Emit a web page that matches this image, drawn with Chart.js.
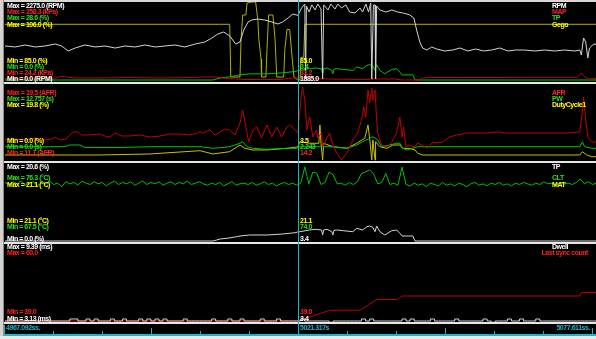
<!DOCTYPE html>
<html>
<head>
<meta charset="utf-8">
<title>Log viewer</title>
<script src="https://cdn.jsdelivr.net/npm/chart.js"></script>
<style>
  html, body { margin: 0; padding: 0; background: #000; overflow: hidden; }
  #view { position: relative; width: 596px; height: 339px; background: #000; overflow: hidden; }
  #view canvas { position: absolute; left: 0; }
  .rule { position: absolute; z-index: 3; }
  .txt { position: absolute; z-index: 4; font: bold 7px "Liberation Sans", Arial, sans-serif; line-height: 8px; white-space: nowrap; letter-spacing: -0.45px; }
</style>
</head>
<body>
<div id="view">
  <canvas id="p1" width="602" height="82" style="top:0"></canvas>
  <canvas id="p2" width="602" height="78" style="top:84px"></canvas>
  <canvas id="p3" width="602" height="80" style="top:163px"></canvas>
  <canvas id="p4" width="602" height="79" style="top:244px"></canvas>
  <canvas id="strip" width="602" height="12" style="top:323px"></canvas>
</div>
<script>
// log window
const logStart = 4967.092;
const logEnd = 5077.611;
const cursorTime = 5021.317;

// all times below are seconds after logStart

// panel 1
const rpmT = [0, 1.9, 3.7, 5.6, 7.4, 9.3, 10.5, 11.7, 13.0, 14.8,
  16.7, 18.5, 20.4, 22.2, 24.1, 25.9, 27.8, 29.6, 31.5, 33.3,
  35.2, 37.0, 38.3, 39.4, 40.5, 41.6, 42.7, 43.5, 44.2, 45.0,
  45.7, 46.8, 48.1, 49.4, 50.5, 51.4, 52.4, 53.3, 54.2, 54.9,
  55.5, 55.65, 55.8, 56.3, 56.8, 57.4, 57.9, 58.5, 58.8, 59.0,
  59.8, 60.3, 61.1, 61.6, 62.3, 63.1, 63.8, 64.8, 65.7, 66.2,
  66.8, 67.3, 67.7, 67.9, 68.2, 68.5, 68.6, 68.8, 69.4, 70.5,
  71.6, 72.7, 73.8, 74.9, 75.7, 76.2, 76.8, 77.3, 78.1, 79.0,
  79.9, 81.4, 82.9, 84.2, 85.7, 87.1, 88.6, 90.1, 91.6, 93.1,
  94.5, 96.2, 98.1, 99.9, 101.8, 103.6, 105.5, 106.4, 106.7, 107.1,
  107.5, 107.9, 108.2, 109.0, 110.1];
const rpmV = [992, 963, 1021, 963, 992, 1050, 992, 846, 933, 1021,
  963, 992, 933, 992, 963, 1021, 963, 992, 1021, 963,
  1050, 1108, 1225, 1342, 1400, 1283, 1050, 1108, 1458, 1692,
  1750, 1779, 1750, 1692, 1633, 1692, 1808, 1925, 1885, 2100,
  2217, 30, 2158, 1983, 2188, 2042, 2217, 2071, 29, 2188,
  2042, 2217, 2071, 2217, 2100, 2188, 1983, 1954, 2100, 1983,
  2217, 1983, 2246, 29, 2188, 2188, 29, 2158, 2042, 1983,
  2042, 1983, 1950, 1900, 1808, 1458, 1108, 933, 875, 963,
  904, 846, 875, 933, 846, 904, 846, 875, 933, 846,
  875, 875, 846, 875, 846, 875, 846, 875, 729, 1225,
  1108, 642, 933, 1050, 1021];

const mapT = [0, 4.6, 9.3, 10.2, 11.3, 13.0, 17.6, 23.1, 28.7, 34.2,
  37.0, 38.9, 40.1, 42.6, 44.4, 47.2, 50.9, 53.3, 54.2, 55.5,
  60.1, 65.7, 69.4, 72.2, 73.4, 76.0, 76.6, 77.3, 78.6, 84.2,
  91.6, 99.0, 106.0, 106.7, 107.3, 108.2, 110.1];
const mapV = [28.7, 30.2, 30.2, 34.7, 33.2, 30.2, 30.2, 31.7, 30.2, 31.7,
  33.2, 33.2, 30.2, 27.2, 25.7, 25.7, 25.7, 30.2, 31.2, 28.7,
  27.2, 25.7, 27.2, 27.2, 24.2, 24.2, 24.2, 30.2, 31.7, 31.7,
  31.7, 32.3, 32.3, 45.2, 33.2, 27.2, 30.2];

// throttle position, shown in panel 1 and panel 3
const tpT = [0, 38.5, 39.2, 39.8, 41.1, 42.9, 43.5, 45.3, 48.5, 51.4,
  53.7, 54.2, 54.6, 56.4, 57.4, 58.6, 58.8, 59.0, 59.6, 60.5,
  60.7, 60.9, 61.5, 62.6, 64.4, 65.1, 66.2, 67.0, 67.5, 68.1,
  68.5, 68.8, 69.4, 70.3, 71.6, 72.5, 73.1, 73.5, 75.5, 75.9,
  110.5];
const tpV = [0, 0, 0.38, 0.75, 1.02, 1.62, 1.88, 2.26, 2.26, 2.63,
  3.12, 3.4, 3.5, 4.14, 4.4, 4.14, 2.26, 4.14, 4.4, 3.5,
  2.26, 4.0, 4.14, 3.88, 3.5, 4.78, 4.14, 5.38, 5.64, 5.16,
  3.5, 5.64, 3.5, 2.26, 3.88, 4.14, 2.9, 1.88, 1.88, 0,
  0];

const egoT = [0, 41.6, 41.8, 43.5, 43.7, 44.0, 44.6, 44.8, 45.7, 46.4,
  46.8, 47.0, 47.4, 47.5, 48.3, 48.5, 48.8, 49.6, 50.0, 50.3,
  51.6, 51.8, 52.2, 52.7, 53.1, 53.5, 54.2, 54.6, 54.8, 55.3,
  55.5, 110.5];
const egoV = [100, 100, 85.8, 85.8, 95.9, 102.5, 102.5, 105.7, 106, 106,
  101.2, 95.9, 90.6, 85.8, 85.8, 93.2, 102.5, 102.5, 95.9, 85.8,
  85.8, 93.2, 98.6, 98.6, 91.9, 85.8, 85.0, 85.0, 91.1, 91.1,
  100, 100];

// panel 2
const afrT = [0, 1.9, 3.7, 5.6, 7.4, 8.7, 9.3, 10.2, 11.3, 12.0,
  12.6, 13.5, 14.2, 15.7, 17.6, 18.5, 19.4, 20.4, 21.6, 23.1,
  25.0, 26.8, 28.7, 30.5, 32.4, 34.2, 35.7, 36.1, 36.6, 37.9,
  38.9, 39.8, 40.7, 41.6, 42.6, 43.5, 44.0, 44.6, 45.1, 45.9,
  46.6, 47.5, 48.5, 49.4, 50.3, 51.2, 52.2, 52.7, 53.7, 54.2,
  54.9, 55.1, 55.5, 55.9, 56.4, 57.0, 57.7, 57.9, 58.6, 58.8,
  59.6, 60.1, 60.7, 61.4, 62.3, 63.3, 64.4, 65.3, 66.0, 66.4,
  66.8, 67.2, 67.5, 67.9, 68.1, 68.5, 68.8, 69.0, 69.7, 70.7,
  71.6, 72.5, 73.1, 73.5, 73.8, 74.2, 74.6, 75.9, 76.4, 77.1,
  78.1, 78.6, 79.2, 79.9, 81.0, 82.3, 83.6, 85.5, 89.2, 90.7,
  91.6, 92.9, 95.3, 97.7, 100.8, 104.0, 106.4, 106.9, 107.1, 107.5,
  107.9, 108.6, 110.1];
const afrV = [13.37, 13.48, 13.37, 13.6, 13.37, 13.48, 13.71, 13.37, 13.48, 13.94,
  14.28, 14.28, 13.94, 13.94, 14.05, 13.82, 13.71, 14.16, 13.82, 13.82,
  13.94, 13.71, 13.82, 14.05, 14.05, 13.94, 14.16, 14.31, 14.16, 14.51,
  13.94, 14.28, 14.62, 14.51, 13.94, 15.3, 16.78, 14.85, 13.14, 14.51,
  14.85, 13.6, 15.07, 13.71, 14.85, 13.71, 14.85, 15.07, 14.51, 14.2,
  18.7, 19.39, 17.91, 14.51, 15.98, 13.71, 14.51, 13.6, 14.16, 12.58,
  13.6, 14.16, 12.8, 11.89, 11.1, 11.89, 13.37, 14.16, 15.64, 17.12,
  15.98, 19.05, 17.57, 19.27, 17.91, 19.05, 15.64, 14.16, 12.8, 12.58,
  13.14, 14.16, 15.98, 13.71, 14.85, 12.58, 12.8, 12.58, 13.03, 12.8,
  12.46, 12.69, 13.14, 13.03, 13.14, 13.71, 13.94, 14.16, 14.16, 14.28,
  14.28, 14.16, 14.16, 14.16, 14.16, 14.16, 14.28, 16.78, 18.25, 15.64,
  13.71, 13.14, 13.14];

const pwT = [0, 11.1, 12.0, 13.9, 14.8, 21.3, 26.8, 36.1, 38.5, 41.6,
  43.5, 44.0, 44.8, 45.9, 48.5, 52.2, 54.0, 54.2, 55.1, 57.7,
  60.7, 63.3, 65.1, 66.2, 67.5, 68.1, 69.0, 69.7, 71.2, 72.5,
  73.1, 73.6, 74.4, 75.5, 76.4, 82.3, 91.6, 106.4, 106.9, 107.3,
  108.6, 110.1];
const pwV = [2.29, 2.29, 2.59, 2.59, 2.16, 2.16, 2.29, 2.29, 2.02, 2.29,
  2.88, 3.15, 2.29, 2.02, 1.84, 2.02, 2.02, 2.243, 2.29, 2.29,
  2.29, 2.02, 2.59, 3.15, 3.74, 4.02, 3.45, 2.29, 2.59, 2.88,
  2.88, 2.02, 1.72, 2.02, 2.29, 2.29, 2.29, 2.29, 3.15, 2.29,
  2.02, 2.02];

const dutyT = [0, 17.6, 26.8, 36.1, 38.5, 41.6, 43.5, 44.4, 45.9, 48.5,
  52.2, 54.2, 54.6, 56.4, 58.1, 58.3, 58.5, 58.8, 59.0, 60.7,
  63.3, 65.1, 66.6, 67.2, 67.5, 67.9, 68.1, 68.5, 68.6, 69.4,
  70.7, 71.8, 73.1, 73.6, 74.9, 75.9, 76.4, 77.3, 106.4, 106.9,
  107.7, 108.6, 110.1];
const dutyV = [1.34, 1.34, 1.61, 2.49, 1.61, 2.22, 4.01, 3.13, 2.68, 2.68,
  3.13, 3.5, 4.9, 4.47, 4.47, 9.37, 4.47, 0, 4.47, 3.56,
  3.13, 4.47, 5.81, 9.37, 5.81, 0, 5.35, 0, 4.9, 3.56,
  3.13, 4.01, 4.01, 3.13, 3.13, 2.68, 1.79, 1.34, 1.34, 2.22,
  1.34, 0.88, 0.88];

// panel 3
const cltStep = 0.75;
const cltV = [74.1, 73.8, 74.2, 73.9, 74.3, 73.7, 74.0, 74.2, 73.6, 74.1,
  73.9, 74.3, 73.8, 74.0, 73.5, 74.2, 73.9, 74.1, 73.7, 74.3,
  74.0, 73.8, 74.2, 73.9, 74.1, 73.6, 74.0, 74.3, 73.8, 74.1,
  73.9, 74.2, 73.7, 74.0, 74.3, 73.8, 74.1, 73.9, 74.2, 73.7,
  74.0, 74.2, 73.8, 74.1, 73.9, 74.3, 73.8, 74.0, 74.2, 73.9,
  73.7, 74.0, 73.8, 74.1, 73.6, 73.9, 74.2, 73.7, 73.9, 74.0,
  73.8, 74.1, 73.7, 73.9, 74.2, 73.8, 74.0, 73.6, 73.9, 74.1,
  73.8, 74.0, 73.7, 74.0, 76.3, 73.9, 75.6, 75.4, 73.8, 74.1,
  75.6, 75.2, 73.9, 74.0, 73.7, 74.1, 73.8, 74.2, 75.4, 75.6,
  75.9, 75.3, 73.9, 74.1, 75.4, 73.8, 74.0, 73.7, 76.3, 73.8,
  73.6, 74.0, 73.7, 73.9, 73.5, 74.0, 73.8, 73.6, 74.1, 73.7,
  73.9, 73.6, 74.0, 73.8, 73.5, 73.9, 74.1, 73.7, 73.9, 73.6,
  74.0, 73.8, 74.1, 73.7, 73.9, 73.6, 74.0, 73.8, 74.1, 73.9,
  73.7, 74.0, 73.8, 74.2, 73.9, 74.0, 73.7, 74.1, 73.9, 74.0,
  73.8, 74.1, 74.6, 73.9, 74.2, 73.8, 74.0, 73.9];
const matT = [0, 110.5];
const matV = [21.1, 21.1];

// panel 4
const dwellStep = 0.75;
const dwellV = [3.4, 3.4, 3.4, 3.4, 3.4, 3.4, 3.4, 3.4, 3.4, 3.4,
  3.4, 3.4, 3.4, 3.4, 3.4, 3.4, 3.56, 3.56, 3.4, 3.4,
  3.56, 3.4, 3.56, 3.4, 3.4, 3.4, 3.56, 3.4, 3.4, 3.56,
  3.4, 3.4, 3.4, 3.56, 3.4, 3.56, 3.4, 3.56, 3.4, 3.56,
  3.4, 3.4, 3.4, 3.4, 3.56, 3.4, 3.4, 3.4, 3.4, 3.4,
  3.4, 3.56, 3.4, 3.4, 3.4, 3.56, 3.4, 3.4, 3.56, 3.4,
  3.4, 3.4, 3.4, 3.56, 3.4, 3.4, 3.4, 3.56, 3.4, 3.4,
  3.4, 3.4, 3.4, 3.56, 3.4, 3.4, 3.4, 3.4, 3.4, 3.4,
  3.3, 3.4, 3.4, 3.4, 3.4, 3.4, 3.4, 3.4, 3.56, 3.4,
  3.56, 3.4, 3.4, 3.4, 3.4, 3.4, 3.4, 3.4, 3.56, 3.4,
  3.56, 3.4, 3.4, 3.4, 3.4, 3.56, 3.4, 3.4, 3.4, 3.4,
  3.4, 3.56, 3.4, 3.4, 3.4, 3.4, 3.4, 3.4, 3.56, 3.4,
  3.3, 3.4, 3.4, 3.4, 3.56, 3.4, 3.4, 3.56, 3.4, 3.4,
  3.4, 3.56, 3.4, 3.4, 3.4, 3.4, 3.4, 3.4, 3.4, 3.4,
  3.4, 3.4, 3.4, 3.4, 3.4, 3.4, 3.4, 3.4];
const syncT = [0, 54.2, 60.1, 65.7, 68.8, 72.7, 73.5, 106.4, 106.7, 110.5];
const syncV = [39, 39, 42, 42, 45, 45, 46, 46, 47, 47];

// time axis tick marks
const tickSec = [-0.19, 8.88, 17.95, 27.02, 36.09, 45.16, 63.29, 72.36, 81.43, 90.5, 99.57, 108.64];

// text
const p1Max = ['Max = 2275.0 (RPM)', 'Max = 258.3 (kPa)', 'Max = 28.6 (%)', 'Max = 106.0 (%)'];
const p1Min = ['Min = 85.0 (%)', 'Min = 0.0 (%)', 'Min = 24.2 (kPa)', 'Min = 0.0 (RPM)'];
const p1Names = ['RPM', 'MAP', 'TP', 'Gego'];
const p1Cursor = ['85.0', '3.4', '31.2', '1885.0'];
const p2Max = ['Max = 19.5 (AFR)', 'Max = 12.757 (s)', 'Max = 19.8 (%)'];
const p2Min = ['Min = 0.0 (%)', 'Min = 0.0 (s)', 'Min = 11.1 (AFR)'];
const p2Names = ['AFR', 'PW', 'DutyCycle1'];
const p2Cursor = ['3.5', '2.243', '14.2'];
const p3Max = ['Max = 20.6 (%)', 'Max = 76.3 (°C)', 'Max = 21.1 (°C)'];
const p3Min = ['Min = 21.1 (°C)', 'Min = 67.5 (°C)', 'Min = 0.0 (%)'];
const p3Names = ['TP', 'CLT', 'MAT'];
const p3Cursor = ['21.1', '74.0', '3.4'];
const p4Max = ['Max = 9.39 (ms)', 'Max = 60.0'];
const p4Min = ['Min = 39.0', 'Min = 3.13 (ms)'];
const p4Names = ['Dwell', 'Last sync count'];
const p4Cursor = ['39.0', '3.4'];

const WHITE = '#d4d4d4', RED = '#c40000', GREEN = '#00c400', YELLOW = '#c4c400', OLIVE = '#b0b000';
const TWHITE = '#ffffff', TRED = '#ff2020', TGREEN = '#22e022', TYELLOW = '#ffff00', CYAN = '#1fb4c8';

const span = logEnd - logStart;

function pairs(t, v) { return v.map((y, i) => ({ x: t[i], y: y })); }
function sampled(step, v) { return v.map((y, i) => ({ x: i * step, y: y })); }

function panel(id, series) {
  const scales = { x: { type: 'linear', min: 0, max: span, display: false } };
  series.forEach((s, i) => { scales['y' + i] = { display: false, min: s.min, max: s.max }; });
  return new Chart(document.getElementById(id), {
    type: 'line',
    data: {
      datasets: series.map((s, i) => ({
        data: s.data,
        yAxisID: 'y' + i,
        borderColor: s.color,
        borderWidth: 1,
        pointRadius: 0,
        tension: 0,
        stepped: s.stepped || false,
        hidden: s.hidden || false,
        clip: false
      }))
    },
    options: {
      responsive: false,
      animation: false,
      events: [],
      layout: { padding: { left: 5, right: 0, top: 2, bottom: 2 } },
      scales: scales,
      plugins: { legend: { display: false }, tooltip: { enabled: false } }
    }
  });
}

// first dataset is drawn on top
const c1 = panel('p1', [
  { data: pairs(rpmT, rpmV), color: WHITE, min: 0, max: 2275 },
  { data: pairs(mapT, mapV), color: RED, min: 24.2, max: 258.3 },
  { data: pairs(tpT, tpV), color: GREEN, min: 0, max: 28.6 },
  { data: pairs(egoT, egoV), color: OLIVE, min: 85, max: 106 }
]);
panel('p2', [
  { data: pairs(afrT, afrV), color: RED, min: 11.1, max: 19.5 },
  { data: pairs(pwT, pwV), color: GREEN, min: 0, max: 12.757 },
  { data: pairs(dutyT, dutyV), color: YELLOW, min: 0, max: 19.8 }
]);
// MAT has min == max, its trace does not show
panel('p3', [
  { data: pairs(tpT, tpV), color: WHITE, min: 0, max: 28.6 },
  { data: sampled(cltStep, cltV), color: GREEN, min: 65.7, max: 76.6 },
  { data: pairs(matT, matV), color: YELLOW, min: 20.1, max: 21.46, hidden: true }
]);
panel('p4', [
  { data: sampled(dwellStep, dwellV), color: WHITE, min: 3.4, max: 9.39, stepped: true },
  { data: pairs(syncT, syncV), color: RED, min: 39, max: 60 }
]);

// time axis strip with tick marks, every third one long
new Chart(document.getElementById('strip'), {
  type: 'line',
  data: { datasets: [] },
  options: {
    responsive: false, animation: false, events: [],
    layout: { padding: { left: 5, right: 0, top: 1, bottom: 1 } },
    scales: { x: { type: 'linear', min: 0, max: span, display: false }, y: { display: false, min: 0, max: 1 } },
    plugins: { legend: { display: false }, tooltip: { enabled: false } }
  },
  plugins: [{
    id: 'ticks',
    afterDraw(chart) {
      const ctx = chart.ctx, x = chart.scales.x, bottom = chart.chartArea.bottom;
      ctx.save();
      ctx.fillStyle = CYAN;
      tickSec.forEach((t, i) => {
        const len = i === 0 ? 9 : (Math.round((t - (cursorTime - logStart)) / 9.069) % 3 === 0 ? 6 : 3);
        ctx.fillRect(Math.round(x.getPixelForValue(t)), bottom - len, 1, len);
      });
      ctx.restore();
    }
  }]
});

// frame, separators, cursor and text
const view = document.getElementById('view');
function box(l, t, w, h, c) {
  const d = document.createElement('div');
  d.className = 'rule';
  d.style.cssText = `left:${l}px;top:${t}px;width:${w}px;height:${h}px;background:${c}`;
  view.appendChild(d);
}
function text(s, l, yc, c, right) {
  const d = document.createElement('div');
  d.className = 'txt';
  d.textContent = s;
  d.style.color = c;
  d.style.top = (yc - 4) + 'px';
  if (right) d.style.right = right + 'px'; else d.style.left = l + 'px';
  view.appendChild(d);
}

box(0, 0, 4, 339, '#d6d3ce');
box(3, 0, 1, 336, '#8c8c8c');
box(4, 0, 592, 2, '#d8d8d8');
[82, 161, 242, 322].forEach(y => box(4, y, 592, 2, '#e6e6e6'));
box(4, 334, 592, 2, CYAN);
box(0, 336, 596, 3, '#ece9e4');

const cx = Math.round(c1.scales.x.getPixelForValue(cursorTime - logStart));
box(cx, 0, 1, 334, CYAN);

const colors1 = [TWHITE, TRED, TGREEN, TYELLOW];
const maxY1 = [6, 12.3, 18.3, 24.7];
const minY1 = [60.7, 66.7, 72.7, 78.7];
const minCol1 = [TYELLOW, TGREEN, TRED, TWHITE];
p1Max.forEach((s, i) => text(s, 7, maxY1[i], colors1[i]));
p1Names.forEach((s, i) => text(s, 552, maxY1[i], colors1[i]));
p1Min.forEach((s, i) => text(s, 7, minY1[i], minCol1[i]));
p1Cursor.forEach((s, i) => text(s, cx + 2, minY1[i], minCol1[i]));

const colors2 = [TRED, TGREEN, TYELLOW];
const maxY2 = [92.7, 98.7, 104.7];
const minY2 = [140.7, 146.7, 152.7];
const minCol2 = [TYELLOW, TGREEN, TRED];
p2Max.forEach((s, i) => text(s, 7, maxY2[i], colors2[i]));
p2Names.forEach((s, i) => text(s, 552, maxY2[i], colors2[i]));
p2Min.forEach((s, i) => text(s, 7, minY2[i], minCol2[i]));
p2Cursor.forEach((s, i) => text(s, cx + 2, minY2[i], minCol2[i]));

const colors3 = [TWHITE, TGREEN, TYELLOW];
const maxY3 = [166.7, 177.5, 184.7];
const minY3 = [220.7, 226.7, 238.7];
const minCol3 = [TYELLOW, TGREEN, TWHITE];
p3Max.forEach((s, i) => text(s, 7, maxY3[i], colors3[i]));
p3Names.forEach((s, i) => text(s, 552, maxY3[i], colors3[i]));
p3Min.forEach((s, i) => text(s, 7, minY3[i], minCol3[i]));
p3Cursor.forEach((s, i) => text(s, cx + 2, minY3[i], minCol3[i]));

const colors4 = [TWHITE, TRED];
const maxY4 = [246.7, 253];
const minY4 = [312.3, 318.7];
const minCol4 = [TRED, TWHITE];
p4Max.forEach((s, i) => text(s, 7, maxY4[i], colors4[i]));
text(p4Names[0], 552, maxY4[0], colors4[0]);
text(p4Names[1], 0, maxY4[1], colors4[1], 8);
p4Min.forEach((s, i) => text(s, 7, minY4[i], minCol4[i]));
p4Cursor.forEach((s, i) => text(s, cx + 2, minY4[i], minCol4[i]));

text(logStart.toFixed(3) + 'ss.', 6, 328, CYAN);
text(cursorTime.toFixed(3) + 's', cx + 2, 328, CYAN);
text(logEnd.toFixed(3) + 'ss.', 0, 328, CYAN, 6);
</script>
</body>
</html>
